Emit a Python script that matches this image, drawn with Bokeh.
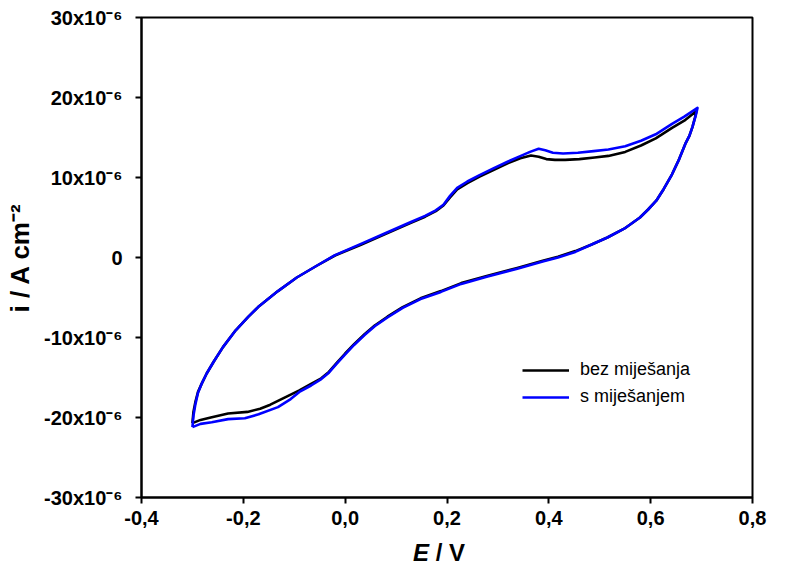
from bokeh.plotting import figure
from bokeh.models import Range1d, FixedTicker, Legend, LegendItem, Div
from bokeh.layouts import column
from bokeh.embed import file_html
from bokeh.resources import INLINE

# ---- data (E in V, i in microA/cm^2) ----
black_fwd_E = [-0.300, -0.298, -0.294, -0.289, -0.282, -0.272, -0.258, -0.240, -0.215, -0.190, -0.171, -0.132,
               -0.095, -0.055, -0.020, 0.031, 0.081, 0.128, 0.157, 0.178, 0.193, 0.206, 0.220, 0.240, 0.264,
               0.290, 0.320, 0.344, 0.365, 0.380, 0.395, 0.412, 0.432, 0.460, 0.490, 0.517, 0.550, 0.581,
               0.610, 0.642, 0.666, 0.690]
black_fwd_i = [-20.7, -19.3, -18.0, -16.8, -15.8, -14.5, -13.0, -11.2, -9.1, -7.4, -6.2, -4.2,
               -2.5, -1.0, 0.25, 1.6, 3.0, 4.3, 5.1, 5.8, 6.5, 7.5, 8.5, 9.3, 10.1,
               10.9, 11.8, 12.4, 12.75, 12.6, 12.3, 12.2, 12.2, 12.3, 12.5, 12.7, 13.2, 14.0,
               14.9, 16.2, 17.1, 18.3]
black_rev_E = [0.690, 0.687, 0.682, 0.676, 0.668, 0.656, 0.642, 0.626, 0.611, 0.595, 0.579, 0.548, 0.515,
               0.483, 0.452, 0.418, 0.388, 0.338, 0.278, 0.228, 0.188, 0.148, 0.113, 0.083, 0.058, 0.038,
               0.018, 0.000, -0.017, -0.032, -0.047, -0.067, -0.090, -0.112, -0.147, -0.167, -0.192, -0.230,
               -0.264, -0.284, -0.300]
black_rev_i = [18.3, 17.5, 16.3, 15.2, 14.2, 12.3, 10.4, 8.6, 7.1, 6.0, 5.0, 3.6, 2.5,
               1.6, 0.8, 0.1, -0.4, -1.3, -2.3, -3.2, -4.2, -5.1, -6.2, -7.4, -8.5, -9.6,
               -10.8, -12.0, -13.2, -14.3, -15.1, -15.8, -16.6, -17.3, -18.4, -18.9, -19.3, -19.5,
               -20.0, -20.3, -20.7]

blue_fwd_E = [-0.300, -0.298, -0.294, -0.289, -0.282, -0.272, -0.258, -0.240, -0.215, -0.190, -0.171, -0.132,
              -0.095, -0.055, -0.020, 0.031, 0.081, 0.128, 0.157, 0.178, 0.193, 0.206, 0.220, 0.240, 0.264,
              0.290, 0.320, 0.345, 0.363, 0.380, 0.393, 0.408, 0.428, 0.457, 0.488, 0.517, 0.550, 0.581,
              0.610, 0.642, 0.666, 0.692]
blue_fwd_i = [-21.2, -19.8, -18.3, -16.9, -15.8, -14.5, -13.0, -11.2, -9.1, -7.4, -6.2, -4.2,
              -2.5, -1.0, 0.3, 1.7, 3.1, 4.4, 5.2, 5.9, 6.6, 7.7, 8.7, 9.5, 10.3,
              11.1, 12.0, 12.7, 13.2, 13.6, 13.4, 13.1, 13.0, 13.1, 13.3, 13.5, 13.9, 14.6,
              15.4, 16.7, 17.6, 18.7]
blue_rev_E = [0.692, 0.688, 0.682, 0.676, 0.668, 0.656, 0.642, 0.626, 0.611, 0.595, 0.579, 0.548, 0.515,
              0.483, 0.452, 0.418, 0.388, 0.338, 0.278, 0.228, 0.188, 0.148, 0.113, 0.083, 0.058, 0.038,
              0.018, 0.000, -0.017, -0.032, -0.047, -0.067, -0.090, -0.107, -0.132, -0.170, -0.197, -0.230,
              -0.262, -0.284, -0.300]
blue_rev_i = [18.7, 17.6, 16.3, 15.2, 14.2, 12.3, 10.4, 8.6, 7.1, 6.0, 5.0, 3.6, 2.5,
              1.6, 0.7, 0.0, -0.5, -1.4, -2.4, -3.3, -4.3, -5.2, -6.3, -7.5, -8.6, -9.7,
              -10.9, -12.1, -13.3, -14.4, -15.2, -16.0, -16.8, -17.7, -18.7, -19.6, -20.1, -20.2,
              -20.6, -20.8, -21.2]

series_labels = ["bez miješanja", "s miješanjem"]
x_ticks = [-0.4, -0.2, 0.0, 0.2, 0.4, 0.6, 0.8]
x_tick_labels = ["-0,4", "-0,2", "0,0", "0,2", "0,4", "0,6", "0,8"]
y_ticks_u = [-30, -20, -10, 0, 10, 20, 30]
y_tick_labels = ["-30x10⁻⁶", "-20x10⁻⁶", "-10x10⁻⁶", "0", "10x10⁻⁶", "20x10⁻⁶", "30x10⁻⁶"]

scale = 1e-6
FONT = "Liberation Sans"

p = figure(width=786, height=538, output_backend="svg", toolbar_location=None,
           x_range=Range1d(-0.4, 0.8), y_range=Range1d(-30e-6, 30e-6),
           min_border_left=141, min_border_right=34, min_border_top=17, min_border_bottom=41)
p.grid.visible = False
p.background_fill_color = "white"
p.border_fill_color = "white"
p.outline_line_color = "black"
p.outline_line_width = 2

y_ticks = [v * scale for v in y_ticks_u]
p.xaxis.ticker = FixedTicker(ticks=x_ticks)
p.yaxis.ticker = FixedTicker(ticks=y_ticks)
p.xaxis.major_label_overrides = {t: l for t, l in zip(x_ticks, x_tick_labels)}
p.yaxis.major_label_overrides = {t: l for t, l in zip(y_ticks, y_tick_labels)}
for ax in (p.xaxis, p.yaxis):
    ax.axis_line_width = 2
    ax.major_tick_line_width = 2
    ax.major_tick_out = 6
    ax.major_tick_in = 0
    ax.minor_tick_line_color = None
    ax.major_label_text_font = FONT
    ax.major_label_text_font_style = "bold"
    ax.major_label_text_font_size = "20px"
    ax.major_label_text_color = "black"
p.xaxis.major_label_standoff = 7
p.yaxis.major_label_standoff = 13

p.yaxis.axis_label = "i / A cm⁻²"
p.yaxis.axis_label_text_font = FONT
p.yaxis.axis_label_text_font_style = "bold"
p.yaxis.axis_label_text_font_size = "26px"
p.yaxis.axis_label_text_color = "black"
p.yaxis.axis_label_standoff = 6
p.xaxis.axis_label = None

bx = black_fwd_E + black_rev_E
by = [v * scale for v in black_fwd_i + black_rev_i]
ux = blue_fwd_E + blue_rev_E
uy = [v * scale for v in blue_fwd_i + blue_rev_i]

r1 = p.line(bx, by, line_color="black", line_width=2.6, line_join="round")
r2 = p.line(ux, uy, line_color="#0000ff", line_width=2.6, line_join="round")

legend = Legend(items=[LegendItem(label=series_labels[0], renderers=[r1]),
                       LegendItem(label=series_labels[1], renderers=[r2])],
                location=(381, 90), orientation="vertical",
                padding=0, margin=0, spacing=6, glyph_width=47, glyph_height=20,
                label_height=20, label_standoff=11,
                label_text_font=FONT, label_text_font_size="18px", label_text_color="black",
                border_line_color=None, background_fill_alpha=0)
p.add_layout(legend, "center")

# x axis title with italic E
xtitle = Div(text="<i>E</i> / V", width=200, height=26, margin=(2, 0, 0, 339),
             styles={"font-family": FONT, "font-weight": "bold", "font-size": "24px",
                     "text-align": "center", "color": "black", "line-height": "26px"})

layout = column(p, xtitle, spacing=0)
open("out.html", "w").write(file_html(layout, INLINE))
